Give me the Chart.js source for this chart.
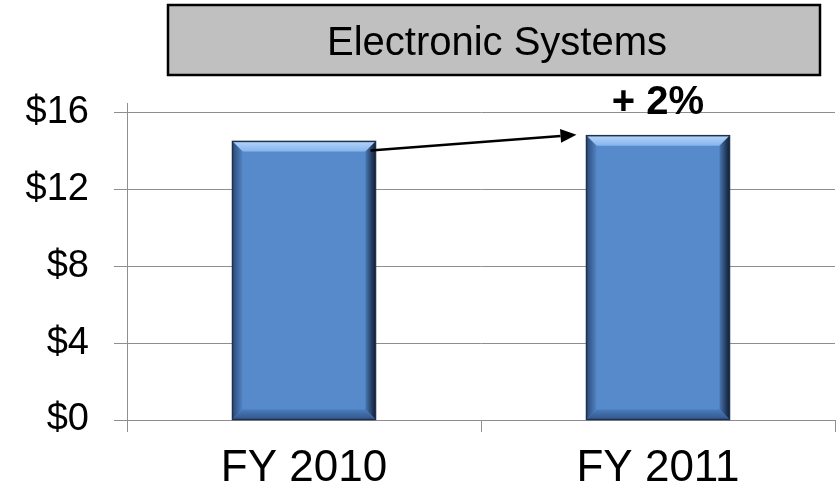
<!DOCTYPE html>
<html>
<head>
<meta charset="utf-8">
<script src="https://cdn.jsdelivr.net/npm/chart.js@4.4.0/dist/chart.umd.min.js"></script>
<style>
  body { margin: 0; background: #fff; }
  canvas { display: block; }
</style>
</head>
<body>
<canvas id="chart" width="840" height="490"></canvas>
<script>
const titleText = 'Electronic Systems';
const categories = ['FY 2010', 'FY 2011'];
const revenue = [14.5, 14.8];
const yTickValues = [0, 4, 8, 12, 16];
const changeLabel = '+ 2%';

const FONT = '"Liberation Sans", Arial, sans-serif';
const GRID = '#8e8e8e';

// gray title box at the top
const titleBox = {
    id: 'titleBox',
    beforeDraw(chart) {
        const ctx = chart.ctx;
        ctx.save();
        ctx.fillStyle = '#c0c0c0';
        ctx.fillRect(168, 5, 652, 70);
        ctx.lineWidth = 2.5;
        ctx.strokeStyle = '#000';
        ctx.strokeRect(168, 5, 652, 70);
        ctx.fillStyle = '#000';
        ctx.font = '40px ' + FONT;
        ctx.textAlign = 'center';
        ctx.textBaseline = 'alphabetic';
        ctx.fillText(titleText, 497, 55);
        ctx.restore();
    }
};

// bevel look on the bars, plus the growth arrow
const bevelBars = {
    id: 'bevelBars',
    afterDatasetsDraw(chart) {
        const ctx = chart.ctx;
        const bars = chart.getDatasetMeta(0).data;
        ctx.save();
        bars.forEach(bar => {
            const L = bar.x - bar.width / 2;
            const R = bar.x + bar.width / 2;
            const T = bar.y;
            const B = bar.base;
            const b = 10;

            let g = ctx.createLinearGradient(0, T, 0, T + b);
            g.addColorStop(0, '#b3d4fa');
            g.addColorStop(1, '#86b5ec');
            ctx.fillStyle = g;
            ctx.beginPath();
            ctx.moveTo(L, T); ctx.lineTo(R, T); ctx.lineTo(R - b, T + b); ctx.lineTo(L + b, T + b);
            ctx.closePath(); ctx.fill();

            g = ctx.createLinearGradient(L, 0, L + b, 0);
            g.addColorStop(0, '#2b4a75');
            g.addColorStop(1, '#5283c3');
            ctx.fillStyle = g;
            ctx.beginPath();
            ctx.moveTo(L, T); ctx.lineTo(L + b, T + b); ctx.lineTo(L + b, B - b); ctx.lineTo(L, B);
            ctx.closePath(); ctx.fill();

            g = ctx.createLinearGradient(R - b, 0, R, 0);
            g.addColorStop(0, '#4776b1');
            g.addColorStop(1, '#111d33');
            ctx.fillStyle = g;
            ctx.beginPath();
            ctx.moveTo(R, T); ctx.lineTo(R, B); ctx.lineTo(R - b, B - b); ctx.lineTo(R - b, T + b);
            ctx.closePath(); ctx.fill();

            g = ctx.createLinearGradient(0, B - b, 0, B);
            g.addColorStop(0, '#4a7cbb');
            g.addColorStop(1, '#30568a');
            ctx.fillStyle = g;
            ctx.beginPath();
            ctx.moveTo(L, B); ctx.lineTo(R, B); ctx.lineTo(R - b, B - b); ctx.lineTo(L + b, B - b);
            ctx.closePath(); ctx.fill();

            ctx.lineWidth = 1.5;
            ctx.strokeStyle = '#1e3250';
            ctx.strokeRect(L, T, R - L, B - T);
        });

        // arrow from the first bar to the second
        const a = bars[0], c = bars[1];
        const x1 = a.x + a.width / 2 - 5, y1 = a.y + 9;
        const x2 = c.x - c.width / 2 - 10, y2 = c.y - 1;
        const ang = Math.atan2(y2 - y1, x2 - x1);
        const len = 16, hw = 7;
        const bx = x2 - len * Math.cos(ang), by = y2 - len * Math.sin(ang);
        ctx.strokeStyle = '#000';
        ctx.lineWidth = 2.5;
        ctx.beginPath();
        ctx.moveTo(x1, y1);
        ctx.lineTo(bx, by);
        ctx.stroke();
        ctx.fillStyle = '#000';
        ctx.beginPath();
        ctx.moveTo(x2, y2);
        ctx.lineTo(bx - hw * Math.sin(ang), by + hw * Math.cos(ang));
        ctx.lineTo(bx + hw * Math.sin(ang), by - hw * Math.cos(ang));
        ctx.closePath();
        ctx.fill();

        ctx.font = 'bold 40px ' + FONT;
        ctx.textAlign = 'center';
        ctx.textBaseline = 'alphabetic';
        ctx.fillText(changeLabel, c.x, c.y - 22);
        ctx.restore();
    }
};

new Chart(document.getElementById('chart'), {
    type: 'bar',
    data: {
        labels: categories,
        datasets: [{
            data: revenue,
            backgroundColor: '#568acb',
            borderWidth: 0,
            categoryPercentage: 1,
            barPercentage: 0.404
        }]
    },
    options: {
        responsive: false,
        animation: false,
        layout: { padding: { top: 103, right: 5, left: 0, bottom: 0 } },
        plugins: {
            legend: { display: false },
            tooltip: { enabled: false },
            title: { display: false }
        },
        scales: {
            x: {
                grid: { drawOnChartArea: false, tickLength: 12, color: GRID, offset: true },
                border: { color: GRID },
                ticks: { color: '#000', font: { family: FONT, size: 44 }, padding: 10 },
                afterFit: s => { s.height = 70; }
            },
            y: {
                min: 0,
                max: 16.5,
                afterBuildTicks: s => { s.ticks = yTickValues.map(v => ({ value: v })); },
                afterFit: s => { s.width = 127; },
                grid: { color: GRID, tickLength: 13 },
                border: { color: GRID },
                ticks: {
                    color: '#000',
                    font: { family: FONT, size: 38 },
                    padding: 25,
                    callback: v => '$' + v
                }
            }
        }
    },
    plugins: [titleBox, bevelBars]
});
</script>
</body>
</html>
